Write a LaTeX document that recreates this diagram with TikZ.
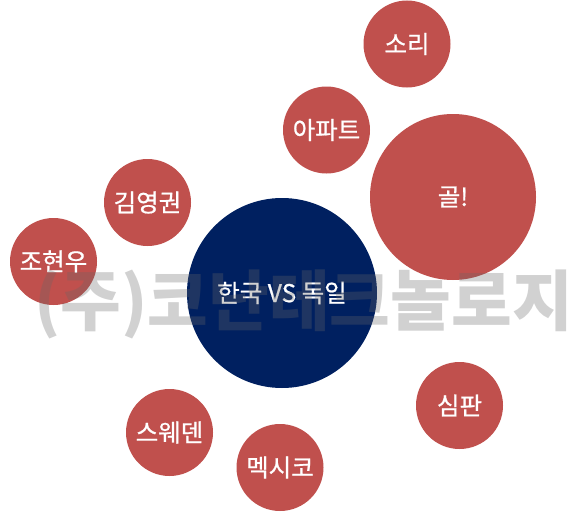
\documentclass[tikz,border=0pt]{standalone}
\usepackage{fontspec}
\newfontfamily\kofont{Noto Sans CJK KR}
\newfontfamily\kolabel[FakeBold=0.8]{Noto Sans CJK KR}
\usetikzlibrary{positioning}
\definecolor{BubRed}{RGB}{192,80,77}
\definecolor{BubNavy}{RGB}{0,32,96}
\definecolor{MarkGray}{RGB}{103,103,103}
\tikzset{
	bub/.style={circle,fill=BubRed,inner sep=0pt,minimum size=87pt,text=white,
		font=\kolabel\fontsize{24.5}{28}\selectfont},
	hub/.style={bub,fill=BubNavy,minimum size=190pt},
	goal/.style={bub,minimum size=166pt},
	wmark/.style={text=MarkGray,text opacity=0.3,inner sep=0pt,anchor=base west,
		font=\kofont\bfseries\fontsize{66}{70}\selectfont},
}

\begin{document}
\begin{tikzpicture}[x=1pt,y=-1pt]
	\useasboundingbox (0,0) rectangle (567,511);
	\node[hub] (match) at (282,293) {한국 VS 독일};
	\node[goal] (gol) at (453,197) {골!};
	\node[bub] (sori) at (407,44) {소리};
	\node[bub] (apt) at (326.5,130) {아파트};
	\node[bub] (kim) at (147.5,202.5) {김영권};
	\node[bub] (cho) at (53.5,261.5) {조현우};
	\node[bub] (swe) at (169.5,432.5) {스웨덴};
	\node[bub] (mex) at (280,467.5) {멕시코};
	\node[bub] (ref) at (459.5,405.5) {심판};
	% watermark on top
	\node[wmark] (konan) at (34,325) {(주)코난테크놀로지};
\end{tikzpicture}
\end{document}
